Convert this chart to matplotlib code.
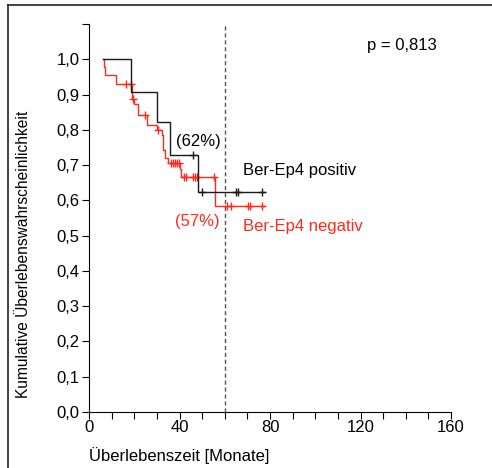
import numpy as np
import matplotlib
matplotlib.use("Agg")
import matplotlib.pyplot as plt
from matplotlib.lines import Line2D

plt.rcParams['font.family'] = ['Liberation Sans', 'DejaVu Sans']

# Ber-Ep4 positiv: Stufen (Zeit in Monaten, Überlebensrate)
pos_t = [6.3, 18.6, 29.9, 35.8, 48.3, 78.0]
pos_s = [1.0, 0.908, 0.823, 0.729, 0.625, 0.625]
pos_zens_t = [46.1, 49.8, 64.8, 65.8, 76.5]
pos_zens_s = [0.729, 0.625, 0.625, 0.625, 0.625]

# Ber-Ep4 negativ
neg_t = [6.3, 6.6, 7.1, 11.8, 19.0, 19.8, 21.8, 25.8, 29.9, 32.1, 32.9, 33.6,
         35.1, 40.2, 40.7, 55.7, 77.3]
neg_s = [1.0, 0.978, 0.956, 0.931, 0.887, 0.874, 0.843, 0.814, 0.800, 0.785,
         0.743, 0.719, 0.705, 0.690, 0.667, 0.585, 0.585]
neg_zens_t = [16.2, 18.5, 19.6, 24.8, 30.6, 36.1, 37.0, 38.0, 39.0, 39.9,
              42.0, 43.0, 46.1, 46.8, 47.6, 55.2, 60.8, 62.6, 70.4, 71.1, 76.6]
neg_zens_s = [0.931, 0.931, 0.887, 0.843, 0.800, 0.705, 0.705, 0.705, 0.705,
              0.705, 0.667, 0.667, 0.667, 0.667, 0.667, 0.667, 0.585, 0.585,
              0.585, 0.585, 0.585]

y_ticks = np.round(np.arange(0, 1.11, 0.1), 1)
x_major = [0, 40, 80, 120, 160]

schwarz = '#1a1a1a'
rot = '#ff2a1a'

fig = plt.figure(figsize=(4.92, 4.68), dpi=100)
ax = fig.add_axes([89 / 492, 56 / 468, 362 / 492, 388 / 468])

# Kaplan-Meier-Kurven
ax.step(neg_t, neg_s, where='post', color=rot, lw=1.0)
ax.plot(neg_zens_t, neg_zens_s, ls='none', marker='+', ms=6, mew=1.0, color=rot)
ax.step(pos_t, pos_s, where='post', color=schwarz, lw=1.0)
ax.plot(pos_zens_t, pos_zens_s, ls='none', marker='+', ms=6, mew=1.0, color=schwarz)

# 5-Jahres-Marke
ax.axvline(60, color='#555555', lw=1.0, ls=(0, (3, 2)))

ax.set_xlim(0, 160)
ax.set_ylim(0, 1.1)
ax.set_xticks(x_major)
ax.set_xticks(np.arange(0, 161, 10), minor=True)
ax.set_yticks(y_ticks)
ax.set_yticklabels([f"{v:.1f}".replace('.', ',') if v < 1.05 else '' for v in y_ticks])
ax.tick_params(which='both', direction='out', length=5, width=0.8, labelsize=12, pad=2)
ax.tick_params(axis='x', pad=1)

for s in ['top', 'right']:
    ax.spines[s].set_visible(False)
for s in ['left', 'bottom']:
    ax.spines[s].set_linewidth(0.8)

ax.set_xlabel('Überlebenszeit [Monate]', fontsize=12, loc='left')
ax.xaxis.set_label_coords(0.0, -0.113)
ax.xaxis.label.set_va('center')
ax.set_ylabel('Kumulative Überlebenswahrscheinlichkeit', fontsize=11.2)
ax.yaxis.set_label_coords(-0.182, 0.405)
ax.yaxis.label.set_va('center')

ax.text(122.9, 1.04, 'p = 0,813', fontsize=12, ha='left', va='center')
ax.text(48.2, 0.768, '(62%)', fontsize=12, ha='center', va='center', color='black')
ax.text(48.0, 0.539, '(57%)', fontsize=12, ha='center', va='center', color=rot)
ax.text(68.2, 0.686, 'Ber-Ep4 positiv', fontsize=12, ha='left', va='center', color='black')
ax.text(68.2, 0.527, 'Ber-Ep4 negativ', fontsize=12, ha='left', va='center', color=rot)

# Rahmen (links und oben)
fig.add_artist(Line2D([7.5 / 492, 7.5 / 492], [0, 1 - 4.5 / 468], color='#222222', lw=1.2))
fig.add_artist(Line2D([7.5 / 492, 1], [1 - 4.5 / 468, 1 - 4.5 / 468], color='#222222', lw=1.2))

fig.savefig('out.png', dpi=100)
